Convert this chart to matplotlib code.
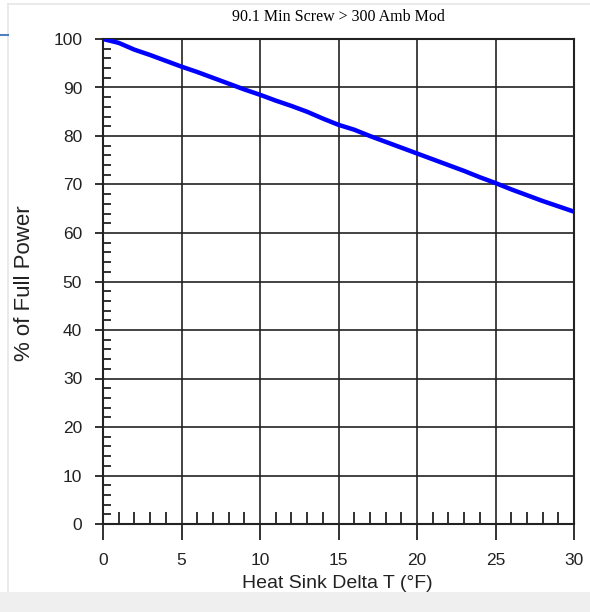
import matplotlib
matplotlib.use("Agg")
import matplotlib.pyplot as plt
from matplotlib.lines import Line2D
from matplotlib.patches import Rectangle
from matplotlib.ticker import MultipleLocator

# data
delta_t = [0, 1, 2, 3, 4, 5, 6, 7, 8, 9, 10, 11, 12, 13, 14, 15,
           16, 17, 18, 19, 20, 21, 22, 23, 24, 25, 26, 27, 28, 29, 30]
pct_power = [100.0, 99.2, 97.8, 96.7, 95.5, 94.3, 93.2, 92.0, 90.8, 89.6,
             88.5, 87.3, 86.2, 85.0, 83.6, 82.3, 81.3, 80.0, 78.8, 77.6,
             76.4, 75.2, 74.0, 72.8, 71.5, 70.3, 69.0, 67.8, 66.6, 65.5, 64.4]
x_ticks = [0, 5, 10, 15, 20, 25, 30]
y_ticks = [0, 10, 20, 30, 40, 50, 60, 70, 80, 90, 100]

TITLE = "90.1 Min Screw > 300 Amb Mod"
X_LABEL = "Heat Sink Delta T (°F)"
Y_LABEL = "% of Full Power"

W, H = 590, 612
DPI = 100


def main():
    plt.rcParams["font.family"] = ["Liberation Sans", "DejaVu Sans"]
    fig = plt.figure(figsize=(W / DPI, H / DPI), dpi=DPI)
    fig.patch.set_facecolor("white")

    # light page frame and bottom band
    fig.patches.append(Rectangle((0, 0), 1, 20 / H, transform=fig.transFigure,
                                 facecolor="#efefef", edgecolor="none", zorder=0))
    fig.lines.append(Line2D([8 / W, 8 / W], [20 / H, 1 - 4 / H], transform=fig.transFigure,
                            color="#e6e6e6", lw=1.2))
    fig.lines.append(Line2D([8 / W, 1], [1 - 4 / H, 1 - 4 / H], transform=fig.transFigure,
                            color="#e6e6e6", lw=1.2))
    fig.lines.append(Line2D([0, 8 / W], [1 - 35 / H, 1 - 35 / H], transform=fig.transFigure,
                            color="#4f81bd", lw=1.5))

    ax = fig.add_axes([103 / W, 88 / H, 471 / W, 485 / H])
    ax.plot(delta_t, pct_power, color="#0000ff", lw=3.2, solid_capstyle="round", zorder=3)

    ax.set_xlim(0, 30)
    ax.set_ylim(0, 100)
    ax.set_xticks(x_ticks)
    ax.set_yticks(y_ticks)
    ax.xaxis.set_minor_locator(MultipleLocator(1))
    ax.yaxis.set_minor_locator(MultipleLocator(2))
    ax.grid(True, which="major", color="#222222", lw=1.2)
    ax.set_axisbelow(True)

    for s in ax.spines.values():
        s.set_color("#222222")
        s.set_linewidth(1.5)

    ax.tick_params(axis="x", which="major", direction="out", length=11.5, width=1.3,
                   pad=9.5, labelsize=12.5, colors="#222222")
    ax.tick_params(axis="y", which="major", direction="out", length=6, width=1.3,
                   pad=9, labelsize=12.5, colors="#222222")
    ax.tick_params(axis="x", which="minor", direction="in", length=9, width=1.3, colors="#222222")
    ax.tick_params(axis="y", which="minor", direction="in", length=6, width=1.3, colors="#222222")

    fig.text(338.5 / W, 1 - 17 / H, TITLE, family=["Liberation Serif", "DejaVu Serif"],
             fontsize=11.5, ha="center", va="center")
    fig.text(337 / W, 1 - 583 / H, X_LABEL, fontsize=14, ha="center", va="center",
             color="#222222")
    fig.text(25 / W, 1 - 283 / H, Y_LABEL, fontsize=16, rotation=90, ha="center",
             va="center", color="#222222")

    fig.savefig("out.png", dpi=DPI)
    plt.close(fig)


if __name__ == "__main__":
    main()
